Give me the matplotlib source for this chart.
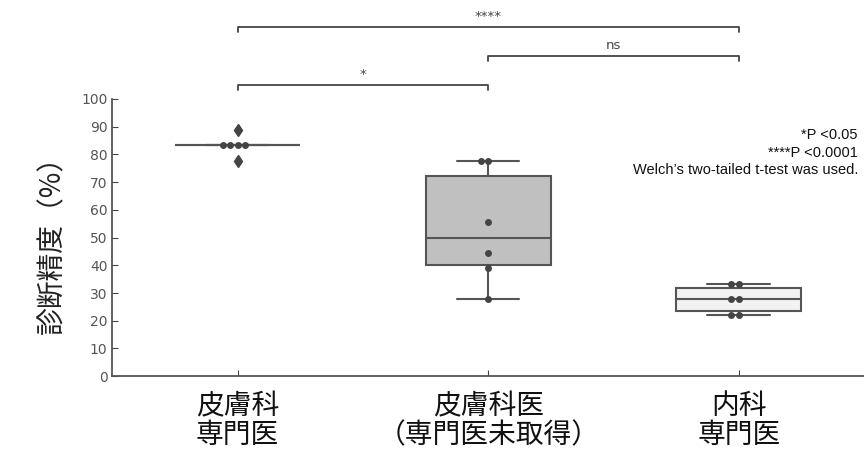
import pandas as pd
import matplotlib.pyplot as plt
import seaborn as sns

# Data: diagnostic accuracy (%) per group
groups = ["皮膚科\n専門医", "皮膚科医\n（専門医未取得）", "内科\n専門医"]
derm_spec = [77.8, 83.3, 83.3, 83.3, 83.3, 88.9]
derm_non = [27.8, 38.9, 44.4, 55.6, 77.8, 77.8]
internal = [22.2, 22.2, 27.8, 27.8, 33.3, 33.3]
box_colors = ["#8c8c8c", "#c0c0c0", "#f2f2f2"]

# significance brackets: (left group, right group, height, label)
brackets = [(0, 1, 105, "*"), (1, 2, 115.5, "ns"), (0, 2, 126, "****")]
note_lines = ["*P <0.05", "****P <0.0001", "Welch’s two-tailed t-test was used."]

df = pd.DataFrame({
    "group": [groups[0]] * len(derm_spec) + [groups[1]] * len(derm_non) + [groups[2]] * len(internal),
    "acc": derm_spec + derm_non + internal,
})

sns.set_style("ticks")
plt.rcParams["font.family"] = ["DejaVu Sans", "Noto Sans CJK JP"]

fig = plt.figure(figsize=(8.64, 4.5), dpi=100)
ax = fig.add_axes([0.13, 0.164, 0.87, 0.616])

sns.boxplot(data=df, x="group", y="acc", order=groups, hue="group", palette=box_colors,
            legend=False, width=0.5, linewidth=1.5, ax=ax,
            boxprops=dict(edgecolor="#555555"), whiskerprops=dict(color="#555555"),
            capprops=dict(color="#555555"), medianprops=dict(color="#555555"),
            flierprops=dict(marker="d", markerfacecolor="#444444", markeredgecolor="#444444", markersize=6))
sns.swarmplot(data=df, x="group", y="acc", order=groups, color="#444444", size=5, ax=ax)

ax.set_xlim(-0.5, 2.5)
ax.set_ylim(0, 100)
ax.set_yticks(range(0, 101, 10))
ax.set_xlabel("")
ax.set_ylabel("診断精度（%）", fontsize=20, family=["Noto Sans CJK JP"], color="#222222", labelpad=10)
ax.tick_params(axis="y", direction="in", length=4, labelsize=10, labelcolor="#555555", color="#444444")
ax.tick_params(axis="x", direction="in", length=4, labelsize=20, labelcolor="#111111", color="#444444", pad=11)
for lab in ax.get_xticklabels():
    lab.set_family(["Noto Sans CJK JP"])
    lab.set_linespacing(0.95)
for s in ["top", "right"]:
    ax.spines[s].set_visible(False)
for s in ["left", "bottom"]:
    ax.spines[s].set_color("#555555")
    ax.spines[s].set_linewidth(1.3)

# Significance brackets above the axes
for x1, x2, h, label in brackets:
    ax.plot([x1, x1, x2, x2], [h - 1.8, h, h, h - 1.8], color="#444444", lw=1.3, clip_on=False)
    ax.text((x1 + x2) / 2, h + 1.5, label, ha="center", va="bottom", fontsize=9.5, color="#444444")

# Notes on the right
for i, line in enumerate(note_lines):
    fig.text(0.993, 0.70 - i * 0.039, line, ha="right", va="center", fontsize=10.5,
             family="Liberation Sans", color="#111111")

plt.savefig("out.png", dpi=100)
